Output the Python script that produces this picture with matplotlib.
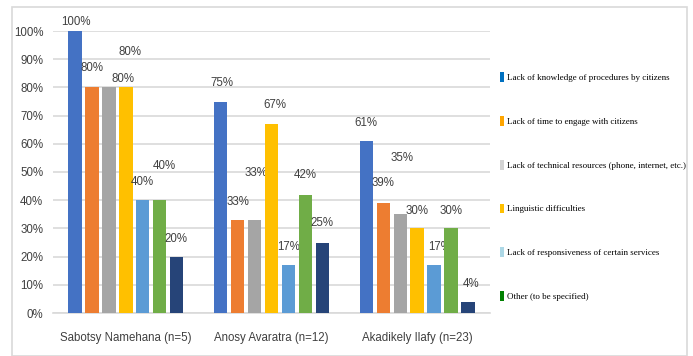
import numpy as np
import matplotlib.pyplot as plt
from matplotlib.patches import Patch, Rectangle
from matplotlib.ticker import PercentFormatter

categories = ["Sabotsy Namehana (n=5)", "Anosy Avaratra (n=12)", "Akadikely Ilafy (n=23)"]

knowledge = [100, 75, 61]
timeLack = [80, 33, 39]
technical = [80, 33, 35]
linguistic = [80, 67, 30]
responsiveness = [40, 17, 17]
other = [40, 42, 30]
extra = [20, 25, 4]

legendLabels = [
    "Lack of knowledge of procedures by citizens",
    "Lack of time to engage with citizens",
    "Lack of technical resources (phone, internet, etc.)",
    "Linguistic difficulties",
    "Lack of responsiveness of certain services",
    "Other (to be specified)",
]

series = [knowledge, timeLack, technical, linguistic, responsiveness, other, extra]
barColors = ["#4472C4", "#ED7D31", "#A5A5A5", "#FFC000", "#5B9BD5", "#70AD47", "#264478"]
legendColors = ["#0070C0", "#FFA500", "#D3D3D3", "#FFC000", "#ADD8E6", "#008000"]

# label offsets (pixels) from the top centre of each bar, as placed in the original
labelOffsets = [
    [(1, 9), (1, 18), (0, 18)],
    [(0, 19), (0, 18), (0, 20)],
    [(14, 8), (1, 47), (2, 56)],
    [(4, 35), (3, 19), (0, 17)],
    [(0, 18), (0, 18), (5, 18)],
    [(5, 34), (0, 20), (0, 17)],
    [(-1, 18), (0, 19), (3, 18)],
]

plt.rcParams["font.family"] = ["Liberation Sans", "DejaVu Sans"]

fig = plt.figure(figsize=(6.93, 3.56), dpi=100)
ax = fig.add_axes([53 / 693, 43 / 356, 437 / 693, 282 / 356])

fig.patches.append(Rectangle((12 / 693, 0), 675 / 693, 349 / 356, transform=fig.transFigure,
                             fill=False, edgecolor="#D9D9D9", linewidth=1.2))

x = np.arange(len(categories))
step = 0.1164
barWidth = 0.092
for i, values in enumerate(series):
    pos = x + (i - 3) * step
    bars = ax.bar(pos, np.array(values) / 100, width=barWidth, color=barColors[i], zorder=3)
    for j, b in enumerate(bars):
        dx, dy = labelOffsets[i][j]
        ax.annotate(f"{values[j]}%", (b.get_x() + b.get_width() / 2, b.get_height()),
                    xytext=(dx * 0.72, dy * 0.72), textcoords="offset points",
                    ha="center", va="center", fontsize=8.3, color="#404040",
                    annotation_clip=False)

ax.set_xlim(-0.5, 2.5)
ax.set_ylim(0, 1.0)
ax.set_yticks(np.arange(0, 1.01, 0.1))
ax.yaxis.set_major_formatter(PercentFormatter(1.0, decimals=0))
ax.set_xticks(x)
ax.set_xticklabels(categories)
ax.tick_params(axis="both", length=0, labelsize=8.3, colors="#404040")
ax.tick_params(axis="y", pad=7)
ax.tick_params(axis="x", pad=14)
ax.grid(axis="y", color="#D9D9D9", linewidth=1.2, zorder=0)
for s in ["top", "right", "left"]:
    ax.spines[s].set_visible(False)
ax.spines["bottom"].set_color("#D9D9D9")
ax.spines["bottom"].set_linewidth(1.2)

handles = [Patch(facecolor=c) for c in legendColors]
fig.legend(handles, legendLabels, loc="upper left", bbox_to_anchor=(492 / 693, 1 - 64 / 356),
           frameon=False, handlelength=0.45, handleheight=1.3, handletextpad=0.35,
           labelspacing=3.75, prop={"family": "Liberation Serif", "size": 6.5})

fig.savefig("out.png", dpi=100)
